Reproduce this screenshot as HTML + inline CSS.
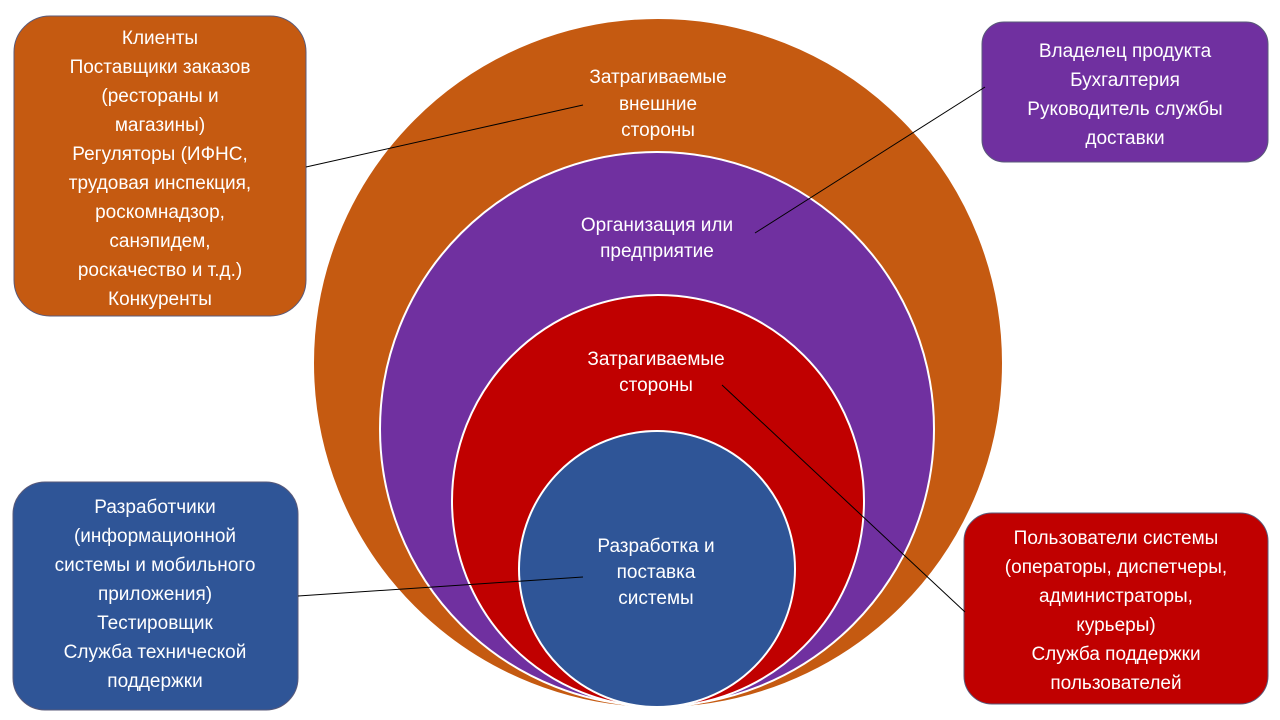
<!DOCTYPE html>
<html><head><meta charset="utf-8"><style>
html,body{margin:0;padding:0;background:#fff;width:1280px;height:720px;overflow:hidden}
svg text{font-family:"Liberation Sans","DejaVu Sans",sans-serif;font-size:19px;fill:#fff;text-anchor:middle}
</style></head><body>
<svg width="1280" height="720" viewBox="0 0 1280 720" xmlns="http://www.w3.org/2000/svg">
<circle cx="658" cy="363" r="345" fill="#c55a11" stroke="#fff" stroke-width="2"/>
<circle cx="657" cy="429" r="277" fill="#7030a0" stroke="#fff" stroke-width="2"/>
<circle cx="658" cy="501" r="206" fill="#c00000" stroke="#fff" stroke-width="2"/>
<circle cx="657" cy="569" r="138" fill="#2f5597" stroke="#fff" stroke-width="2"/>

<rect x="14" y="16" width="292" height="300" rx="36" fill="#c55a11" stroke="#5a5a7a" stroke-width="1"/>
<rect x="982" y="22" width="286" height="140" rx="22" fill="#7030a0" stroke="#5a5a7a" stroke-width="1"/>
<rect x="13" y="482" width="285" height="228" rx="32" fill="#2f5597" stroke="#5a5a7a" stroke-width="1"/>
<rect x="964" y="513" width="304" height="191" rx="28" fill="#c00000" stroke="#5a5a7a" stroke-width="1"/>

<g stroke="#000" stroke-width="1">
<line x1="306" y1="167" x2="583" y2="105"/>
<line x1="755" y1="233" x2="985" y2="87"/>
<line x1="722" y1="385" x2="965" y2="612"/>
<line x1="298" y1="596" x2="583" y2="577"/>
</g>

<text x="658" y="83">Затрагиваемые</text>
<text x="658" y="110">внешние</text>
<text x="658" y="136">стороны</text>
<text x="657" y="231">Организация или</text>
<text x="657" y="257">предприятие</text>
<text x="656" y="365">Затрагиваемые</text>
<text x="656" y="391">стороны</text>
<text x="656" y="552">Разработка и</text>
<text x="656" y="578">поставка</text>
<text x="656" y="604">системы</text>

<text x="160" y="44">Клиенты</text>
<text x="160" y="73">Поставщики заказов</text>
<text x="160" y="102">(рестораны и</text>
<text x="160" y="131">магазины)</text>
<text x="160" y="160">Регуляторы (ИФНС,</text>
<text x="160" y="189">трудовая инспекция,</text>
<text x="160" y="218">роскомнадзор,</text>
<text x="160" y="247">санэпидем,</text>
<text x="160" y="276">роскачество и т.д.)</text>
<text x="160" y="305">Конкуренты</text>

<text x="1125" y="57">Владелец продукта</text>
<text x="1125" y="86">Бухгалтерия</text>
<text x="1125" y="115">Руководитель службы</text>
<text x="1125" y="144">доставки</text>

<text x="155" y="513">Разработчики</text>
<text x="155" y="542">(информационной</text>
<text x="155" y="571">системы и мобильного</text>
<text x="155" y="600">приложения)</text>
<text x="155" y="629">Тестировщик</text>
<text x="155" y="658">Служба технической</text>
<text x="155" y="687">поддержки</text>

<text x="1116" y="544">Пользователи системы</text>
<text x="1116" y="573">(операторы, диспетчеры,</text>
<text x="1116" y="602">администраторы,</text>
<text x="1116" y="631">курьеры)</text>
<text x="1116" y="660">Служба поддержки</text>
<text x="1116" y="689">пользователей</text>
</svg>
</body></html>
